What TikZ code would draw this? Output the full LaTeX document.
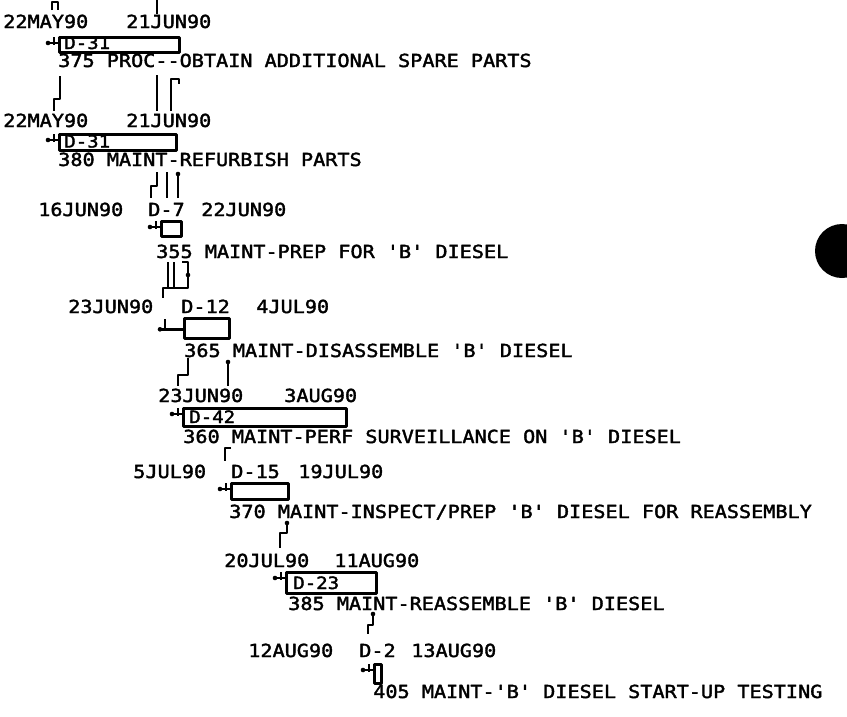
\documentclass[tikz,border=0pt]{standalone}
\usepackage{fontspec}
\newfontfamily\plotfont[FakeStretch=1.12,FakeBold=2]{DejaVu Sans Mono}
\begin{document}
\begin{tikzpicture}[x=1pt,y=-1pt,line width=2.6pt,line join=bevel,
	txt/.style={anchor=base west,inner sep=0pt,font=\plotfont\fontsize{18}{18}\selectfont},
	inbar/.style={anchor=base west,inner sep=0pt,font=\plotfont\fontsize{17}{17}\selectfont},
	bar/.style={draw,anchor=north west,inner sep=0pt,line width=2.6pt}]
	\useasboundingbox (0,0) rectangle (847,716);
	% activity 375
	\node[txt] (es375) at (2,28) {22MAY90} ;
	\node[txt] (lf375) at (125,28) {21JUN90} ;
	\node[bar,minimum width=120pt,minimum height=15pt] (b375) at (58,36) {} ;
	\node[inbar] (d375) at (63,49) {D-31} ;
	\node[txt] (t375) at (57,67) {375 PROC--OBTAIN ADDITIONAL SPARE PARTS} ;
	% activity 380
	\node[txt] (es380) at (2,127) {22MAY90} ;
	\node[txt] (lf380) at (125,127) {21JUN90} ;
	\node[bar,minimum width=117pt,minimum height=16pt] (b380) at (58,133) {} ;
	\node[inbar] (d380) at (63,147.5) {D-31} ;
	\node[txt] (t380) at (57,166) {380 MAINT-REFURBISH PARTS} ;
	% activity 355
	\node[txt] (es355) at (37,216) {16JUN90} ;
	\node[txt] (d355) at (147,216) {D-7} ;
	\node[txt] (lf355) at (200,216) {22JUN90} ;
	\node[bar,minimum width=20pt,minimum height=15pt] (b355) at (160,220) {} ;
	\node[txt] (t355) at (155,258) {355 MAINT-PREP FOR 'B' DIESEL} ;
	% activity 365
	\node[txt] (es365) at (67,313) {23JUN90} ;
	\node[txt] (d365) at (180,313) {D-12} ;
	\node[txt] (lf365) at (255,313) {4JUL90} ;
	\node[bar,minimum width=45pt,minimum height=20pt] (b365) at (183,317) {} ;
	\node[txt] (t365) at (183,357) {365 MAINT-DISASSEMBLE 'B' DIESEL} ;
	% activity 360
	\node[txt] (es360) at (157,402) {23JUN90} ;
	\node[txt] (lf360) at (283,402) {3AUG90} ;
	\node[bar,minimum width=163pt,minimum height=18pt] (b360) at (182,407) {} ;
	\node[inbar] (d360) at (188,423) {D-42} ;
	\node[txt] (t360) at (182,443) {360 MAINT-PERF SURVEILLANCE ON 'B' DIESEL} ;
	% activity 370
	\node[txt] (es370) at (132,478) {5JUL90} ;
	\node[txt] (d370) at (230,478) {D-15} ;
	\node[txt] (lf370) at (297,478) {19JUL90} ;
	\node[bar,minimum width=57pt,minimum height=16pt] (b370) at (230,482) {} ;
	\node[txt] (t370) at (228,518) {370 MAINT-INSPECT/PREP 'B' DIESEL FOR REASSEMBLY} ;
	% activity 385
	\node[txt] (es385) at (223,567) {20JUL90} ;
	\node[txt] (lf385) at (333,567) {11AUG90} ;
	\node[bar,minimum width=90pt,minimum height=21pt] (b385) at (285,571) {} ;
	\node[inbar] (d385) at (292,589) {D-23} ;
	\node[txt] (t385) at (287,610) {385 MAINT-REASSEMBLE 'B' DIESEL} ;
	% activity 405
	\node[txt] (es405) at (247,657) {12AUG90} ;
	\node[txt] (d405) at (358,657) {D-2} ;
	\node[txt] (lf405) at (410,657) {13AUG90} ;
	\node[bar,minimum width=7pt,minimum height=19pt] (b405) at (373,663) {} ;
	\node[txt] (t405) at (372,698) {405 MAINT-'B' DIESEL START-UP TESTING} ;
	% start marks
	\foreach \b in {b375,b380,b355,b360,b370,b385,b405}{
		\draw (\b.north west) ++(-4,1) -- ++(0,8) ;
		\draw (\b.north west) ++(0,7) -- ++(-10,0) coordinate (m\b) ;
		\fill (m\b) circle (2.3) ;
	}
	\draw (b365.west) ++(-18,-9) -- ++(0,10) coordinate (m365) ;
	\draw (b365.west) ++(-23,1) coordinate (n365) -- (b365.west|-m365) ;
	\fill (n365) circle (2.3) ;
	% links
	\coordinate (a1) at (52,10) ; \coordinate (a2) at (58,10) ;
	\coordinate (b1) at (157,0) ; \coordinate (b2) at (157,14) ;
	\draw (a1) -- ++(0,-8) -| (a2) ;
	\draw (b1) -- (b2) ;
	\coordinate (c1) at (60,76) ; \coordinate (c2) at (54,111) ;
	\coordinate (e1) at (171,111) ; \coordinate (e2) at (179,79) ;
	\draw (c1) -- ++(0,23) -| (c2) ;
	\draw (157,75) -- (157,111) ;
	\draw (e1) |- (e2) -- ++(0,5) ;
	\coordinate (f1) at (157,172) ; \coordinate (f2) at (151,198) ;
	\coordinate (h1) at (178,198) ; \coordinate (h2) at (178,172) ;
	\draw (f1) -- ++(0,14) -| (f2) ;
	\draw (167,172) -- (167,198) ;
	\draw (h1) -- (h2) ; \fill (h2) ++(0,2) circle (2.3) ;
	\coordinate (k1) at (182,262) ; \coordinate (k2) at (188,288) ; \coordinate (k3) at (163,298) ;
	\draw (k1) -| (k2) -| (k3) ;
	\draw (168,262) -- (168,288) (174,262) -- (174,288) ;
	\fill (188,275) circle (2.3) ;
	\coordinate (p1) at (188,358) ; \coordinate (p2) at (178,386) ;
	\coordinate (q1) at (228,360) ; \coordinate (q2) at (228,386) ;
	\draw (p1) -- ++(0,17) -| (p2) ;
	\draw (q1) -- (q2) ; \fill (q1) ++(0,2) circle (2.3) ;
	\coordinate (r1) at (231,448) ; \coordinate (r2) at (225,461) ;
	\draw (r1) -| (r2) ;
	\coordinate (s1) at (287,522) ; \coordinate (s2) at (280,548) ;
	\draw (s1) -- ++(0,11) -| (s2) ; \fill (s1) ++(0,1) circle (2.3) ;
	\coordinate (u1) at (373,613) ; \coordinate (u2) at (368,634) ;
	\draw (u1) -- ++(0,12) -| (u2) ; \fill (u1) ++(0,1) circle (2.3) ;
	% hole punch
	\fill (842,251) circle (27) ;
\end{tikzpicture}
\end{document}
